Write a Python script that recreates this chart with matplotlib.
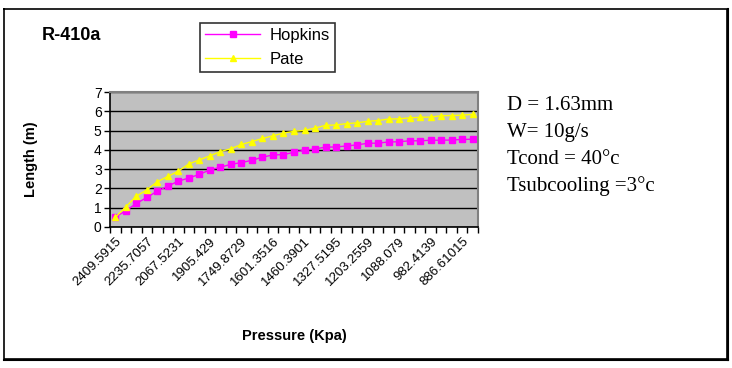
import numpy as np
import matplotlib
matplotlib.use('Agg')
import matplotlib.pyplot as plt
from matplotlib.lines import Line2D

# Data
pressure_labels = ['2409.5915', '2235.7057', '2067.5231', '1905.429', '1749.8729',
                   '1601.3516', '1460.3901', '1327.5195', '1203.2559', '1088.079',
                   '982.4139', '886.61015']
hopkins = [0.52, 0.84, 1.22, 1.53, 1.86, 2.12, 2.38, 2.54, 2.73, 2.96,
           3.10, 3.25, 3.34, 3.46, 3.62, 3.74, 3.75, 3.88, 3.98, 4.05,
           4.14, 4.15, 4.20, 4.26, 4.34, 4.35, 4.41, 4.42, 4.47, 4.47,
           4.50, 4.50, 4.51, 4.54, 4.55]
pate = [0.50, 1.04, 1.60, 1.92, 2.35, 2.62, 2.90, 3.27, 3.48, 3.69,
        3.91, 4.06, 4.28, 4.43, 4.59, 4.73, 4.87, 4.96, 5.01, 5.13,
        5.27, 5.29, 5.36, 5.40, 5.48, 5.52, 5.60, 5.61, 5.66, 5.69,
        5.70, 5.77, 5.78, 5.80, 5.84]
notes = ['D = 1.63mm', 'W= 10g/s', 'Tcond = 40\u00b0c', 'Tsubcooling =3\u00b0c']

W, H = 732, 368
fig = plt.figure(figsize=(W / 100, H / 100), dpi=100)

# outer frame with shadow on right/bottom
fig.add_artist(Line2D([4 / W, 727 / W, 727 / W, 4 / W, 4 / W],
                      [1 - 9 / H, 1 - 9 / H, 1 - 359 / H, 1 - 359 / H, 1 - 9 / H],
                      color='black', lw=1.2))
fig.add_artist(Line2D([727.8 / W, 727.8 / W], [1 - 9 / H, 1 - 360 / H], color='black', lw=1.5))
fig.add_artist(Line2D([4 / W, 728 / W], [1 - 360 / H, 1 - 360 / H], color='black', lw=1.5))

ax = fig.add_axes([110 / W, 1 - 227 / H, 368 / W, 135 / H])
ax.set_facecolor('#C0C0C0')
x = np.arange(len(hopkins))

ax.plot(x, hopkins, color='#FF00FF', marker='s', markersize=4.5, lw=1, label='Hopkins')
ax.plot(x, pate, color='#FFFF00', marker='^', markersize=5, lw=1, label='Pate')

ax.set_xlim(-0.5, len(hopkins) - 0.5)
ax.set_ylim(0, 7)
ax.set_yticks(range(8))
ax.yaxis.grid(True, color='black', lw=1)
ax.set_axisbelow(True)

ax.set_xticks(x[::3])
ax.set_xticklabels(pressure_labels, rotation=45, ha='right', rotation_mode='anchor',
                   fontsize=9.5, family='Liberation Sans')
ax.set_xticks(np.arange(-0.5, len(hopkins)), minor=True)
ax.tick_params(axis='x', which='major', length=0, pad=6)
ax.tick_params(axis='x', which='minor', length=4, width=1, direction='out')
ax.tick_params(axis='y', length=4, width=1, labelsize=10, pad=2)
for lab in ax.get_yticklabels():
    lab.set_family('Liberation Sans')

for side in ['top', 'right']:
    ax.spines[side].set_color('#808080')
    ax.spines[side].set_linewidth(1.5)
ax.spines['left'].set_linewidth(1.2)
ax.spines['bottom'].set_linewidth(1.2)

ax.set_xlabel('Pressure (Kpa)', fontsize=10.5, fontweight='bold', family='Liberation Sans', labelpad=29)
ax.set_ylabel('Length (m)', fontsize=10.5, fontweight='bold', family='Liberation Sans', labelpad=40)

fig.text(42 / W, 1 - 36 / H, 'R-410a', fontsize=13, fontweight='bold',
         family='Liberation Sans', va='center', ha='left')

leg = fig.legend(loc='upper left', bbox_to_anchor=(200 / W, 1 - 23 / H), frameon=True,
                 fancybox=False, edgecolor='black', handlelength=3.3, borderaxespad=0,
                 borderpad=0.3, labelspacing=0.55, handletextpad=0.6,
                 prop={'family': 'Liberation Sans', 'size': 12})
leg.get_frame().set_linewidth(1.2)

for i, s in enumerate(notes):
    fig.text(507 / W, 1 - (105 + 27 * i) / H, s, fontsize=15, family='Liberation Serif',
             va='center', ha='left')

fig.savefig('out.png', dpi=100)
